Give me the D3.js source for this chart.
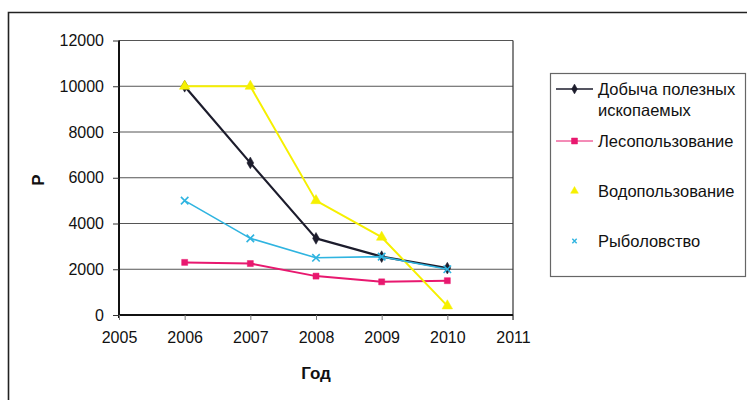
<!DOCTYPE html>
<html>
<head>
<meta charset="utf-8">
<script src="https://cdn.jsdelivr.net/npm/d3@7"></script>
<style>
  html, body { margin: 0; padding: 0; background: #fff; }
  svg { display: block; font-family: "Liberation Sans", Arial, sans-serif; }
</style>
</head>
<body>
<svg id="chart" width="747" height="400"></svg>
<script>
// Years on the x axis and payments per type of resource use
const years = [2006, 2007, 2008, 2009, 2010];
const mining   = [10000, 6650, 3350, 2550, 2050];   // Добыча полезных ископаемых
const forestry = [2300, 2250, 1700, 1450, 1500];    // Лесопользование
const water    = [10000, 10000, 5000, 3400, 400];   // Водопользование
const fishing  = [5000, 3350, 2500, 2550, 2000];    // Рыболовство

const xTicks = [2005, 2006, 2007, 2008, 2009, 2010, 2011];
const yTicks = [0, 2000, 4000, 6000, 8000, 10000, 12000];
const legendNames = [["Добыча полезных", "ископаемых"], ["Лесопользование"], ["Водопользование"], ["Рыболовство"]];

const series = [
  { name: legendNames[0], values: mining,   color: "#1c1c2c", width: 2.2, symbol: d3.symbolDiamond,  size: 40, legendSize: 28, stroke: false, legendLine: true },
  { name: legendNames[1], values: forestry, color: "#e8186f", width: 2,   symbol: d3.symbolSquare,   size: 36, legendSize: 36, stroke: false, legendLine: true },
  { name: legendNames[2], values: water,    color: "#f6f000", width: 2,   symbol: d3.symbolTriangle, size: 48, legendSize: 26, stroke: false, legendLine: false },
  { name: legendNames[3], values: fishing,  color: "#2fb4e0", width: 1.6, symbol: d3.symbolX,        size: 38, legendSize: 14, stroke: true,  legendLine: false }
];

const svg = d3.select("#chart");

// outer frame
svg.append("path")
  .attr("d", "M8.5,400 L8.5,12.5 L747,12.5")
  .attr("fill", "none").attr("stroke", "#222").attr("stroke-width", 1.6);

const x = d3.scaleLinear().domain([2005, 2011]).range([119, 513]);
const y = d3.scaleLinear().domain([0, 12000]).range([315, 40.5]);

// horizontal gridlines
svg.append("g").selectAll("line")
  .data(yTicks.filter(d => d > 0))
  .join("line")
  .attr("x1", x(2005)).attr("x2", x(2011))
  .attr("y1", d => y(d)).attr("y2", d => y(d))
  .attr("stroke", "#555").attr("stroke-width", 1);

// right border of plot area
svg.append("line")
  .attr("x1", x(2011)).attr("x2", x(2011))
  .attr("y1", y(12000)).attr("y2", y(0) + 5)
  .attr("stroke", "#333").attr("stroke-width", 1.2);

// y axis
const yAxis = svg.append("g")
  .attr("transform", `translate(${x(2005)},0)`)
  .call(d3.axisLeft(y).tickValues(yTicks).tickSize(6).tickPadding(9).tickFormat(d3.format("d")));
yAxis.select(".domain").attr("stroke", "#111").attr("stroke-width", 2).attr("d", `M0,${y(12000)}V${y(0) + 3}`);
yAxis.selectAll(".tick line").attr("stroke", "#333");
yAxis.selectAll(".tick text").attr("font-size", 16).attr("fill", "#111")
  .attr("font-family", "'Liberation Sans', Arial, sans-serif");

// x axis
const xAxis = svg.append("g")
  .attr("transform", `translate(0,${y(0)})`)
  .call(d3.axisBottom(x).tickValues(xTicks).tickSize(5).tickPadding(12).tickFormat(d3.format("d")));
xAxis.select(".domain").attr("stroke", "#111").attr("stroke-width", 2).attr("d", `M${x(2005)},0H${x(2011)}`);
xAxis.selectAll(".tick line").attr("stroke", "#777");
xAxis.selectAll(".tick text").attr("font-size", 16).attr("fill", "#111")
  .attr("font-family", "'Liberation Sans', Arial, sans-serif");

// axis titles
svg.append("text")
  .attr("x", x(2008)).attr("y", 379)
  .attr("text-anchor", "middle")
  .attr("font-size", 17).attr("font-weight", "bold").attr("fill", "#111")
  .text("Год");
svg.append("text")
  .attr("transform", "translate(44,180) rotate(-90)")
  .attr("text-anchor", "middle")
  .attr("font-size", 17).attr("font-weight", "bold").attr("fill", "#111")
  .text("Р");

// series lines and markers
const line = d3.line().x((d, i) => x(years[i])).y(d => y(d));
series.forEach(s => {
  const g = svg.append("g");
  g.append("path")
    .attr("d", line(s.values))
    .attr("fill", "none").attr("stroke", s.color).attr("stroke-width", s.width)
    .attr("stroke-linejoin", "round");
  g.selectAll("path.m")
    .data(s.values)
    .join("path")
    .attr("class", "m")
    .attr("transform", (d, i) => `translate(${x(years[i])},${y(d)})`)
    .attr("d", d3.symbol().type(s.symbol).size(s.size))
    .attr("fill", s.stroke ? "none" : s.color)
    .attr("stroke", s.color)
    .attr("stroke-width", s.stroke ? 1.6 : 0.5);
});

// legend
const legend = svg.append("g");
legend.append("rect")
  .attr("x", 550.5).attr("y", 73.5).attr("width", 195).attr("height", 203)
  .attr("fill", "#fff").attr("stroke", "#666").attr("stroke-width", 1.2);

const legendY = [89, 141, 191, 241];
series.forEach((s, i) => {
  const ly = legendY[i];
  if (s.legendLine) {
    legend.append("line")
      .attr("x1", 556).attr("x2", 593).attr("y1", ly).attr("y2", ly)
      .attr("stroke", s.color).attr("stroke-width", i === 1 ? 1 : 1.5);
  }
  legend.append("path")
    .attr("transform", `translate(574.5,${ly})`)
    .attr("d", d3.symbol().type(s.symbol).size(s.legendSize))
    .attr("fill", s.stroke ? "none" : s.color)
    .attr("stroke", s.color).attr("stroke-width", s.stroke ? 1.4 : 0.5);
  s.name.forEach((t, j) => {
    legend.append("text")
      .attr("x", 598).attr("y", ly + 6 + j * 21)
      .attr("font-size", 16.5).attr("fill", "#111")
      .text(t);
  });
});
</script>
</body>
</html>
